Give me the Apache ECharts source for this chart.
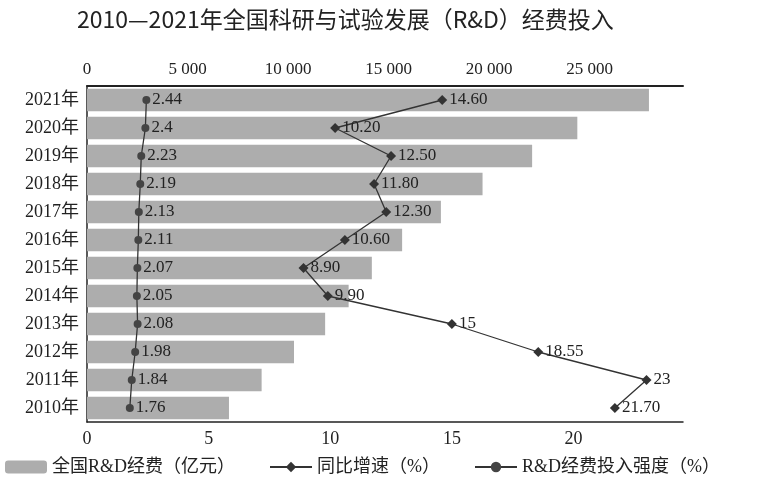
<!DOCTYPE html>
<html><head><meta charset="utf-8">
<script src="https://cdn.jsdelivr.net/npm/echarts@6/dist/echarts.min.js"></script>
<style>html,body{margin:0;padding:0;background:#fff}#c{width:765px;height:483px}</style>
</head><body><div id="c"></div>
<script>
const years = ['2010年','2011年','2012年','2013年','2014年','2015年','2016年','2017年','2018年','2019年','2020年','2021年'];
const spending = [7063, 8687, 10298, 11847, 13016, 14170, 15677, 17606, 19678, 22144, 24393, 27956];
const growth = [21.70, 23, 18.55, 15, 9.90, 8.90, 10.60, 12.30, 11.80, 12.50, 10.20, 14.60];
const intensity = [1.76, 1.84, 1.98, 2.08, 2.05, 2.07, 2.11, 2.13, 2.19, 2.23, 2.4, 2.44];
const topTickLabels = ['0','5 000','10 000','15 000','20 000','25 000'];
const bottomTickLabels = ['0','5','10','15','20'];

const serif = '"Liberation Serif","DejaVu Serif","Noto Sans CJK SC",serif';
const chart = echarts.init(document.getElementById('c'));
chart.setOption({
  animation: false,
  backgroundColor: '#fff',
  title: {
    text: '2010—2021年全国科研与试验发展（R&D）经费投入',
    left: 72, top: 3,
    textStyle: {fontSize: 23, fontWeight: 'normal', color: '#222', fontFamily: '"Noto Sans CJK SC","Noto Sans",sans-serif'}
  },
  grid: {left: 87, right: 82, top: 86, bottom: 61},
  legend: {
    bottom: 2, left: 0, itemGap: 34, itemWidth: 42, itemHeight: 13,
    textStyle: {fontSize: 18, color: '#222', fontFamily: serif},
    data: ['全国R&D经费（亿元）', '同比增速（%）', 'R&D经费投入强度（%）']
  },
  xAxis: [{
    type: 'value', position: 'top', min: 0, max: 29650, interval: 5000,
    axisLine: {show: true, lineStyle: {color: '#222', width: 2}},
    axisTick: {show: false}, splitLine: {show: false},
    axisLabel: {margin: 8, fontSize: 17, color: '#222', fontFamily: serif,
      formatter: v => (v % 5000 === 0 && v / 5000 < topTickLabels.length) ? topTickLabels[v / 5000] : ''}
  }, {
    type: 'value', position: 'bottom', min: 0, max: 24.5, interval: 5,
    axisLine: {show: true, lineStyle: {color: '#222', width: 1.5}},
    axisTick: {show: false}, splitLine: {show: false},
    axisLabel: {margin: 8, fontSize: 18, color: '#222', fontFamily: serif,
      formatter: v => (v % 5 === 0 && v / 5 < bottomTickLabels.length) ? bottomTickLabels[v / 5] : ''}
  }],
  yAxis: {
    type: 'category', data: years,
    axisLine: {show: true, lineStyle: {color: '#222', width: 1.5}},
    axisTick: {show: false},
    axisLabel: {margin: 8, fontSize: 18, color: '#222', fontFamily: serif}
  },
  series: [{
    name: '全国R&D经费（亿元）', type: 'bar', xAxisIndex: 0,
    data: spending, barCategoryGap: '20%',
    itemStyle: {color: '#adadad'}
  }, {
    name: '同比增速（%）', type: 'line', xAxisIndex: 1,
    data: growth.map((v, i) => [v, years[i]]),
    symbol: 'diamond', symbolSize: 10,
    lineStyle: {color: '#333', width: 1.3},
    itemStyle: {color: '#333'},
    label: {show: true, position: 'right', distance: 2, fontSize: 17, color: '#222', fontFamily: serif,
      formatter: p => { const v = p.value[0]; return Number.isInteger(v) ? String(v) : v.toFixed(2); }},
    z: 5
  }, {
    name: 'R&D经费投入强度（%）', type: 'line', xAxisIndex: 1,
    data: intensity.map((v, i) => [v, years[i]]),
    symbol: 'circle', symbolSize: 8,
    lineStyle: {color: '#333', width: 1.3},
    itemStyle: {color: '#444'},
    label: {show: true, position: 'right', distance: 2, fontSize: 17, color: '#222', fontFamily: serif,
      formatter: p => String(p.value[0])},
    z: 5
  }]
});
</script>
</body></html>
